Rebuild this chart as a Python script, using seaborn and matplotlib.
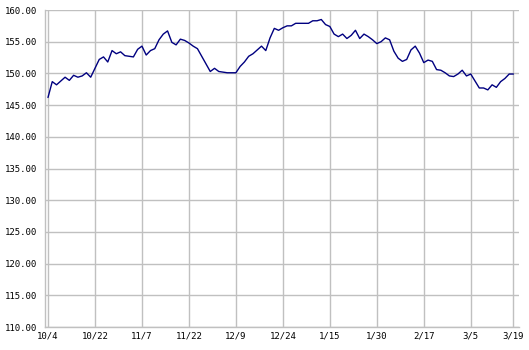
import matplotlib
matplotlib.use("Agg")
import matplotlib.pyplot as plt
import seaborn as sns
import pandas as pd
import numpy as np

values = [
    146.2, 148.7, 148.2, 148.8, 149.4, 148.9, 149.7, 149.4, 149.6, 150.1,
    149.4, 150.8, 152.2, 152.6, 151.8, 153.6, 153.1, 153.4, 152.8, 152.7,
    152.6, 153.8, 154.3, 152.9, 153.6, 153.9, 155.3, 156.2, 156.7, 154.9,
    154.5, 155.4, 155.2, 154.8, 154.3, 153.9, 152.7, 151.5, 150.3, 150.8,
    150.3, 150.2, 150.1, 150.1, 150.1, 151.1, 151.8, 152.7, 153.1, 153.7,
    154.3, 153.6, 155.6, 157.1, 156.8, 157.2, 157.5, 157.5, 157.9, 157.9,
    157.9, 157.9, 158.3, 158.3, 158.5, 157.7, 157.4, 156.2, 155.8, 156.2,
    155.5, 156.0, 156.8, 155.5, 156.2, 155.8, 155.3, 154.7, 155.0, 155.6,
    155.3, 153.5, 152.4, 151.9, 152.2, 153.7, 154.3, 153.2, 151.7, 152.1,
    151.9, 150.6, 150.5, 150.1, 149.6, 149.5, 149.9, 150.5, 149.6, 149.9,
    148.8, 147.7, 147.7, 147.4, 148.2, 147.8, 148.7, 149.2, 149.9, 149.9,
]
tick_pos = [0, 11, 22, 33, 44, 55, 66, 77, 88, 99, 109]
tick_labels = ["10/4", "10/22", "11/7", "11/22", "12/9", "12/24",
               "1/15", "1/30", "2/17", "3/5", "3/19"]
y_ticks = [110, 115, 120, 125, 130, 135, 140, 145, 150, 155, 160]

df = pd.DataFrame({"idx": np.arange(len(values)), "value": values})

sns.set_theme(style="white")
plt.rcParams["font.family"] = ["DejaVu Sans Mono"]

fig = plt.figure(figsize=(5.29, 3.5), dpi=100)
ax = fig.add_axes([45 / 529, 23 / 350, 474 / 529, 317 / 350])

sns.lineplot(data=df, x="idx", y="value", ax=ax, color="#000080", linewidth=1.0)

ax.set_xlim(-0.7, 110.3)
ax.set_ylim(110, 160)
ax.set_xticks(tick_pos)
ax.set_xticklabels(tick_labels)
ax.set_yticks(y_ticks)
ax.set_yticklabels([f"{v:.2f}" for v in y_ticks])
ax.grid(True, color="#c0c0c0", linewidth=1.0)
ax.set_axisbelow(True)
ax.set_xlabel("")
ax.set_ylabel("")
for s in ["top", "right"]:
    ax.spines[s].set_visible(False)
for s in ["left", "bottom"]:
    ax.spines[s].set_color("#c0c0c0")
    ax.spines[s].set_linewidth(1.0)
ax.tick_params(axis="both", length=0, labelsize=6.5, colors="black")
ax.tick_params(axis="y", pad=6)
ax.tick_params(axis="x", pad=3)

fig.savefig("out.png", dpi=100)
